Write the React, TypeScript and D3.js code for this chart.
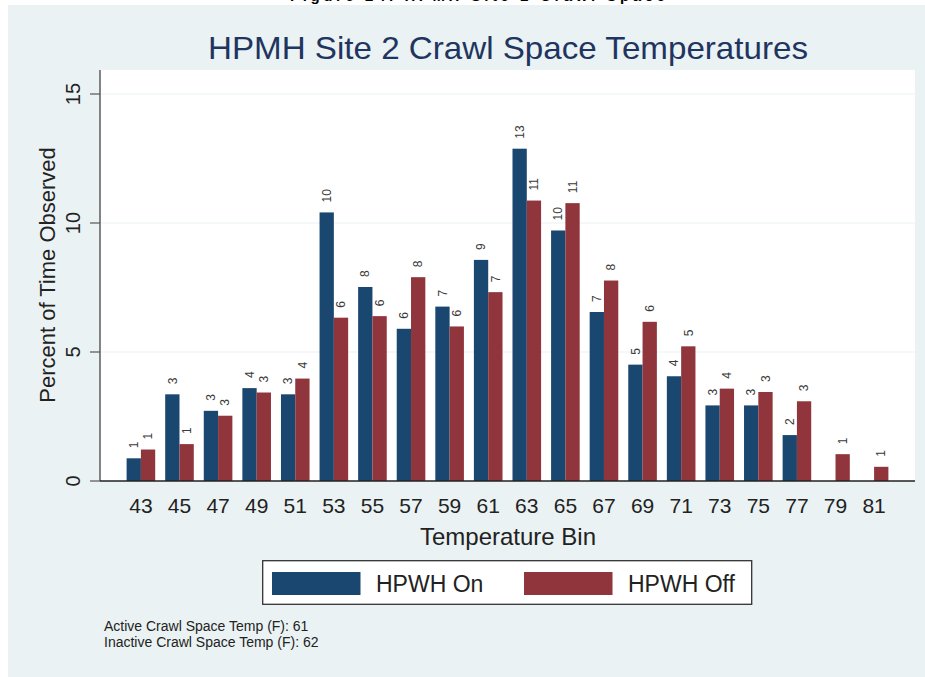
import * as d3 from "d3";
import { useRef, useEffect } from "react";

const bins = ["43", "45", "47", "49", "51", "53", "55", "57", "59", "61", "63", "65", "67", "69", "71", "73", "75", "77", "79", "81"];
const hpwhOn = [0.88, 3.36, 2.72, 3.6, 3.36, 10.41, 7.52, 5.9, 6.76, 8.57, 12.88, 9.71, 6.55, 4.51, 4.06, 2.93, 2.93, 1.78, null, null];
const hpwhOff = [1.22, 1.43, 2.53, 3.43, 3.97, 6.33, 6.39, 7.9, 5.99, 7.32, 10.87, 10.77, 7.77, 6.17, 5.22, 3.58, 3.45, 3.09, 1.04, 0.55];
const yTicks = [0, 5, 10, 15];
const seriesNames = ["HPWH On", "HPWH Off"];
const notes = ["Active Crawl Space Temp (F): 61", "Inactive Crawl Space Temp (F): 62"];

const W = 925, H = 677;
const FONT = "'Liberation Sans', Arial, sans-serif";
const colOn = "#1a476f", colOff = "#90353b";
const bg = "#eaf2f3";

const App = () => {
    const chartRef = useRef(null);

    const margin = { top: 70, bottom: 481, left: 100, right: 915 };
    const barW = 14.3;

    useEffect(() => {
        const svg = d3.select(chartRef.current);
        svg.selectAll('*').remove();

        const x = d3.scalePoint().domain(bins).range([margin.left, margin.right]).padding(1.06);
        const y = d3.scaleLinear().domain([0, 15]).range([481, 94]);

        // cut-off caption line from the page above the figure
        svg.append('text')
           .attr('x', 290).attr('y', 0.5)
           .attr('textLength', 375)
           .style('font', `bold 15px ${FONT}`)
           .text('Figure 24. HPMH Site 2 Crawl Space');

        svg.append('rect')
           .attr('x', 8).attr('y', 5)
           .attr('width', W - 8).attr('height', H - 5)
           .attr('fill', bg);

        svg.append('rect')
           .attr('x', margin.left).attr('y', margin.top)
           .attr('width', margin.right - margin.left)
           .attr('height', margin.bottom - margin.top)
           .attr('fill', '#fff');

        // gridlines
        svg.selectAll('.grid')
           .data(yTicks.filter(d => d > 0))
           .enter()
           .append('line')
           .attr('x1', margin.left).attr('x2', margin.right)
           .attr('y1', d => y(d)).attr('y2', d => y(d))
           .attr('stroke', bg).attr('stroke-width', 1.2);

        // title
        svg.append('text')
           .attr('x', 508).attr('y', 59)
           .attr('text-anchor', 'middle')
           .attr('textLength', 600)
           .attr('lengthAdjust', 'spacingAndGlyphs')
           .attr('fill', '#1f3560')
           .style('font', `32px ${FONT}`)
           .text('HPMH Site 2 Crawl Space Temperatures');

        // bars
        const rows = bins.map((b, i) => ({ bin: b, on: hpwhOn[i], off: hpwhOff[i] }));
        const series = [
            { key: 'on', color: colOn, dx: -barW },
            { key: 'off', color: colOff, dx: 0 },
        ];
        series.forEach(s => {
            const data = rows.filter(d => d[s.key] != null);
            svg.selectAll('.bar-' + s.key)
               .data(data)
               .enter()
               .append('rect')
               .attr('x', d => x(d.bin) + s.dx)
               .attr('y', d => y(d[s.key]))
               .attr('width', barW)
               .attr('height', d => y(0) - y(d[s.key]))
               .attr('fill', s.color);

            svg.selectAll('.lab-' + s.key)
               .data(data)
               .enter()
               .append('text')
               .attr('transform', d => `translate(${x(d.bin) + s.dx + barW / 2}, ${y(d[s.key]) - 10}) rotate(-90)`)
               .attr('dy', '0.35em')
               .attr('fill', '#3a3a3a')
               .style('font', `12px ${FONT}`)
               .text(d => Math.round(d[s.key]));
        });

        // y axis
        svg.append('line')
           .attr('x1', margin.left).attr('x2', margin.left)
           .attr('y1', margin.top).attr('y2', margin.bottom)
           .attr('stroke', '#666').attr('stroke-width', 1.6);
        svg.selectAll('.ytick')
           .data(yTicks)
           .enter()
           .append('line')
           .attr('x1', 90).attr('x2', margin.left)
           .attr('y1', d => y(d)).attr('y2', d => y(d))
           .attr('stroke', '#555').attr('stroke-width', 1.2);
        svg.selectAll('.ylab')
           .data(yTicks)
           .enter()
           .append('text')
           .attr('transform', d => `translate(80, ${y(d)}) rotate(-90)`)
           .attr('text-anchor', 'middle')
           .attr('fill', '#222')
           .style('font', `20px ${FONT}`)
           .text(d => d);
        svg.append('text')
           .attr('transform', 'translate(55, 275) rotate(-90)')
           .attr('text-anchor', 'middle')
           .attr('fill', '#222')
           .style('font', `22px ${FONT}`)
           .text('Percent of Time Observed');

        // x axis
        svg.append('line')
           .attr('x1', margin.left).attr('x2', margin.right)
           .attr('y1', margin.bottom).attr('y2', margin.bottom)
           .attr('stroke', '#222').attr('stroke-width', 1.6);
        svg.selectAll('.xlab')
           .data(bins)
           .enter()
           .append('text')
           .attr('x', d => x(d)).attr('y', 513)
           .attr('text-anchor', 'middle')
           .attr('fill', '#222')
           .style('font', `21px ${FONT}`)
           .text(d => d);
        svg.append('text')
           .attr('x', 508).attr('y', 545)
           .attr('text-anchor', 'middle')
           .attr('fill', '#222')
           .style('font', `24px ${FONT}`)
           .text('Temperature Bin');

        // legend
        svg.append('rect')
           .attr('x', 262.7).attr('y', 560.7)
           .attr('width', 489).attr('height', 43.6)
           .attr('fill', '#fff')
           .attr('stroke', '#333').attr('stroke-width', 1.3);
        const legX = [272, 524];
        seriesNames.forEach((name, i) => {
            svg.append('rect')
               .attr('x', legX[i]).attr('y', 572)
               .attr('width', 88.5).attr('height', 23)
               .attr('fill', i === 0 ? colOn : colOff);
            svg.append('text')
               .attr('x', legX[i] + 104).attr('y', 592)
               .attr('fill', '#222')
               .style('font', `23px ${FONT}`)
               .text(name);
        });

        // notes
        svg.selectAll('.note')
           .data(notes)
           .enter()
           .append('text')
           .attr('x', 104).attr('y', (d, i) => 631 + i * 16)
           .attr('fill', '#222')
           .style('font', `14px ${FONT}`)
           .text(d => d);
    }, []);

    return (
        <svg ref={chartRef} width={W} height={H}
             style={{ position: 'absolute', left: 0, top: 0 }}></svg>
    );
}

export default App;
